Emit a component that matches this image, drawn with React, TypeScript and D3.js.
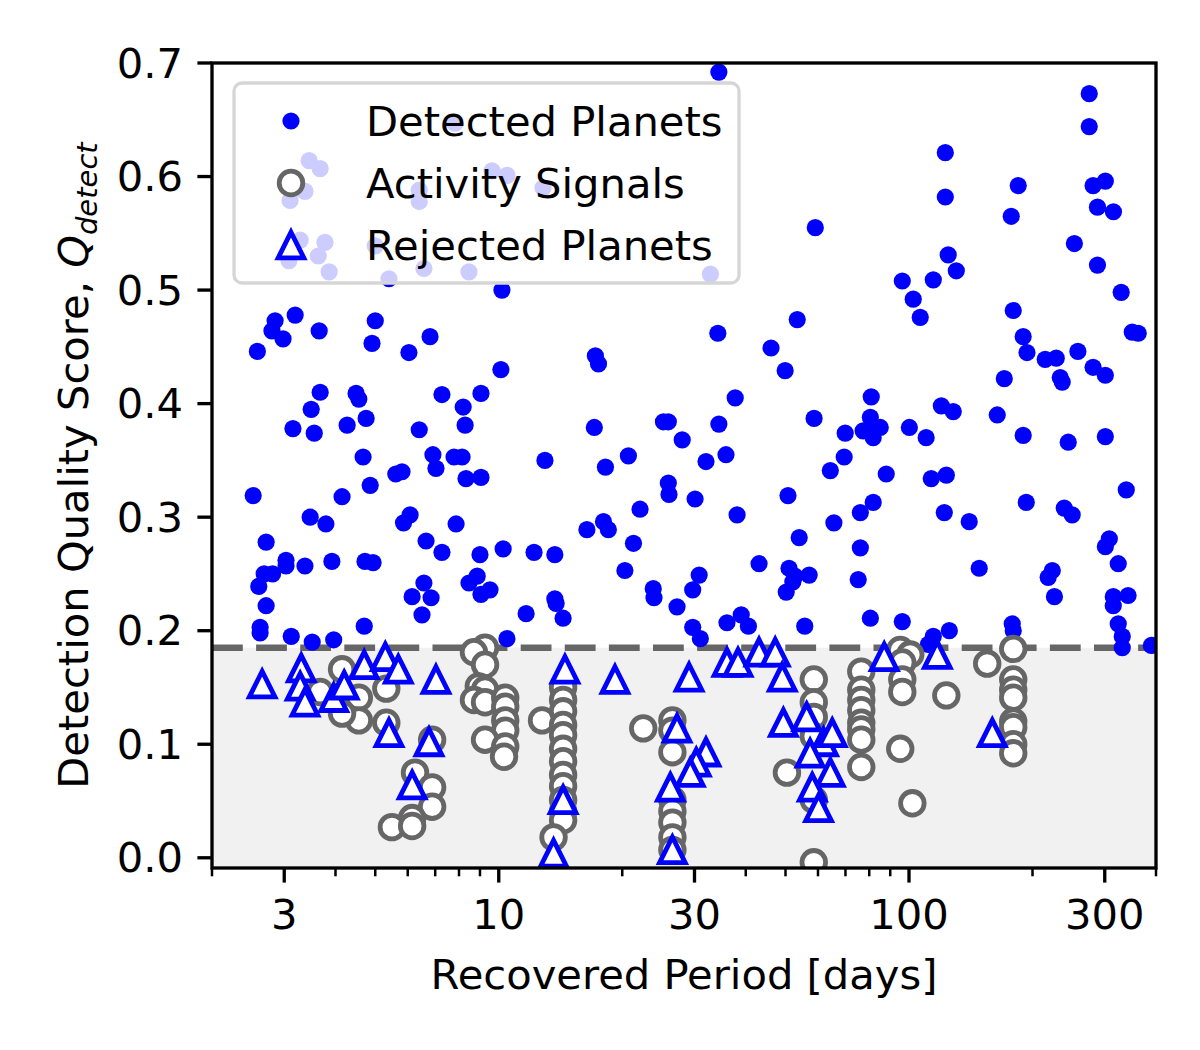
import React from "react";
import * as d3 from "d3";

// [recovered period (days), Q_detect]
const detected: [number, number][] = [
  [7.82, 0.647], [3.45, 0.614], [3.67, 0.607], [3.37, 0.587], [3.1, 0.579], [6.4, 0.588], [6.4, 0.578], [9.63, 0.605], [10.47, 0.601], [12.82, 0.59],
  [3.28, 0.544], [3.77, 0.542], [3.63, 0.53], [3.08, 0.526], [3.86, 0.516], [5.0, 0.539], [5.4, 0.51], [6.57, 0.519], [8.46, 0.516], [32.8, 0.514],
  [10.18, 0.5], [2.85, 0.473], [2.8, 0.464], [2.98, 0.457], [3.19, 0.478], [3.65, 0.464], [2.58, 0.446], [5.0, 0.473], [4.91, 0.453], [6.8, 0.459],
  [6.04, 0.445], [10.12, 0.43], [3.67, 0.41], [4.49, 0.409], [4.56, 0.404], [3.49, 0.395], [4.75, 0.387], [4.27, 0.381], [3.15, 0.378], [3.55, 0.374],
  [7.27, 0.408], [9.05, 0.409], [8.19, 0.397], [8.28, 0.381], [6.4, 0.377], [4.67, 0.353], [6.91, 0.355], [7.78, 0.353], [8.14, 0.353], [7.03, 0.343],
  [5.61, 0.338], [5.81, 0.34], [8.32, 0.334], [9.05, 0.335], [4.86, 0.328], [2.52, 0.319], [4.15, 0.318], [3.47, 0.3], [3.79, 0.294], [6.08, 0.302],
  [5.86, 0.295], [7.87, 0.294], [2.71, 0.278], [6.65, 0.279], [7.27, 0.269], [9.0, 0.267], [10.25, 0.272], [12.19, 0.269], [3.03, 0.262], [3.03, 0.257],
  [2.68, 0.25], [2.81, 0.25], [2.6, 0.239], [3.37, 0.257], [3.92, 0.261], [4.72, 0.261], [4.94, 0.26], [6.57, 0.242], [6.15, 0.23], [6.84, 0.229],
  [6.5, 0.214], [8.46, 0.242], [8.86, 0.248], [9.05, 0.232], [9.52, 0.236], [11.66, 0.215], [2.71, 0.222], [4.7, 0.204], [2.62, 0.203], [2.62, 0.198],
  [3.12, 0.195], [3.51, 0.19], [3.96, 0.192], [10.47, 0.193],
  [34.4, 0.692], [59.1, 0.555], [53.4, 0.474], [34.2, 0.462], [46.1, 0.449], [49.9, 0.429], [17.2, 0.442], [17.5, 0.435], [37.7, 0.405], [58.7, 0.387],
  [69.9, 0.374], [17.1, 0.379], [25.2, 0.384], [25.9, 0.384], [34.4, 0.382], [28.0, 0.368], [12.96, 0.35], [20.7, 0.354], [18.2, 0.344], [32.0, 0.349],
  [35.8, 0.355], [64.3, 0.341], [69.5, 0.353], [25.9, 0.33], [26.0, 0.32], [30.1, 0.316], [50.7, 0.319], [22.1, 0.307], [38.1, 0.302], [65.6, 0.295],
  [18.0, 0.296], [18.5, 0.289], [16.4, 0.289], [21.3, 0.277], [54.0, 0.282], [13.7, 0.267], [20.3, 0.253], [43.1, 0.259], [51.0, 0.255], [52.7, 0.248],
  [57.1, 0.249], [50.2, 0.234], [52.1, 0.243], [23.8, 0.237], [23.9, 0.229], [30.8, 0.249], [29.7, 0.236], [27.2, 0.221], [13.7, 0.228], [13.8, 0.224],
  [14.35, 0.211], [29.7, 0.203], [31.0, 0.193], [36.0, 0.207], [39.0, 0.214], [40.6, 0.204], [55.7, 0.204],
  [275, 0.673], [275, 0.644], [122.6, 0.621], [122.6, 0.582], [184.6, 0.592], [177.5, 0.565], [301, 0.596], [281, 0.592], [288, 0.573], [315, 0.569],
  [253, 0.541], [288, 0.522], [329, 0.498], [124.6, 0.531], [130.4, 0.517], [96.3, 0.508], [114.6, 0.509], [102.4, 0.492], [106.5, 0.476], [179.5, 0.482],
  [189.8, 0.459], [350, 0.463], [362, 0.462], [193.9, 0.445], [214.8, 0.439], [228.5, 0.44], [258, 0.446], [281, 0.432], [301, 0.425], [233.7, 0.423],
  [236.3, 0.419], [170.7, 0.422], [80.9, 0.406], [80.5, 0.388], [77.3, 0.376], [81.8, 0.37], [85.1, 0.379], [80.5, 0.379], [100.2, 0.379], [110.1, 0.37],
  [119.9, 0.398], [128.2, 0.393], [164.1, 0.39], [189.8, 0.372], [244.4, 0.366], [301, 0.371], [88.0, 0.338], [113.3, 0.334], [123.3, 0.337], [338.5, 0.324],
  [81.8, 0.313], [76.1, 0.304], [121.9, 0.304], [140.2, 0.296], [193.1, 0.313], [239, 0.308], [249.9, 0.302], [76.1, 0.273], [307.8, 0.281], [301, 0.274],
  [323.6, 0.259], [75.2, 0.245], [148.3, 0.255], [223.5, 0.253], [218.4, 0.247], [226.2, 0.23], [314.7, 0.23], [314.7, 0.222], [342, 0.231], [80.5, 0.211],
  [96.3, 0.208], [114.6, 0.195], [125.4, 0.2], [178.5, 0.206], [179.5, 0.2], [323.6, 0.206], [331, 0.195], [331, 0.185], [389.6, 0.187], [111.5, 0.188],
];

const activity: [number, number][] = [
  [4.15, 0.166], [3.67, 0.146], [4.56, 0.141], [4.56, 0.121], [4.15, 0.127], [5.32, 0.149], [5.32, 0.119], [6.88, 0.104], [6.25, 0.075], [6.88, 0.062],
  [6.88, 0.045], [6.15, 0.035], [5.49, 0.027], [6.15, 0.028],
  [9.26, 0.185], [8.7, 0.181], [9.26, 0.17], [8.94, 0.151], [9.26, 0.148], [8.7, 0.139], [9.26, 0.137], [10.37, 0.141], [10.37, 0.133], [10.37, 0.121],
  [10.37, 0.112], [9.26, 0.104], [10.37, 0.098], [10.3, 0.089], [12.75, 0.121],
  [14.35, 0.15], [14.35, 0.139], [14.35, 0.129], [14.35, 0.117], [14.35, 0.108], [14.35, 0.096], [14.35, 0.085], [14.35, 0.073], [14.35, 0.063],
  [14.35, 0.051], [14.35, 0.041], [14.35, 0.033], [13.6, 0.018], [22.5, 0.114],
  [26.5, 0.121], [26.5, 0.112], [26.5, 0.093], [26.5, 0.051], [26.5, 0.041], [26.5, 0.031], [26.5, 0.018], [26.5, 0.007],
  [58.6, 0.157], [58.6, 0.137], [58.6, 0.124], [58.6, 0.107], [50.4, 0.075], [58.6, 0.051], [58.6, -0.004],
  [76.5, 0.164], [76.5, 0.148], [76.5, 0.139], [76.5, 0.13], [76.5, 0.119], [76.5, 0.113], [76.5, 0.104], [76.5, 0.08],
  [95.2, 0.183], [100.7, 0.179], [96.3, 0.172], [96.3, 0.157], [96.3, 0.146], [95.2, 0.096], [123.3, 0.143], [101.9, 0.048], [155.1, 0.171],
  [179.5, 0.184], [179.5, 0.157], [179.5, 0.148], [179.5, 0.141], [179.5, 0.12], [179.5, 0.115], [179.5, 0.1], [179.5, 0.092],
];

const rejected: [number, number][] = [
  [2.65, 0.153], [3.3, 0.167], [3.28, 0.151], [3.37, 0.137], [3.96, 0.141], [4.2, 0.152], [4.7, 0.17], [5.29, 0.177], [5.69, 0.166], [7.03, 0.157],
  [5.4, 0.11], [6.76, 0.102], [6.15, 0.064],
  [14.5, 0.166], [19.2, 0.157], [29.1, 0.159], [36.0, 0.172], [38.3, 0.172], [43.1, 0.181], [47.2, 0.181], [49.1, 0.159], [27.2, 0.114], [32.0, 0.093],
  [30.3, 0.084], [29.3, 0.075], [26.2, 0.062], [14.35, 0.051], [13.6, 0.004], [26.5, 0.007],
  [49.4, 0.119], [56.3, 0.124], [61.9, 0.102], [65.0, 0.11], [57.4, 0.092], [64.3, 0.075], [58.1, 0.062], [60.2, 0.044], [87.0, 0.177], [117.2, 0.179],
  [159.6, 0.11],
];

const periodTicks = [3, 10, 30, 100, 300];
const periodMinorTicks = [2, 4, 5, 6, 7, 8, 9, 20, 40, 50, 60, 70, 80, 90, 200, 400];
const scoreTicks = [0, 0.1, 0.2, 0.3, 0.4, 0.5, 0.6, 0.7];
const threshold = 0.185;
const legendLabels = ["Detected Planets", "Activity Signals", "Rejected Planets"];

const FONT = "DejaVu Sans, sans-serif";
const FS = 41.67;
const BLUE = "#0000ff";
const GRAY = "#666666";

function triangle(h: number) {
  return `M0,${-h}L${h},${h}L${-h},${h}Z`;
}

export default function App() {
  const width = 1200;
  const height = 1050;
  const left = 212, right = 1156, top = 63, bottom = 868;

  const x = d3.scaleLog().domain([2, 400]).range([left, right]);
  const y = d3.scaleLinear().domain([-0.009, 0.7]).range([bottom, top]);

  const dotR = 8.6;
  const ringR = 11.8;
  const triH = 12.8;
  const lw = 4.8;

  const legend = { x: 234, y: 83, w: 505, h: 200, markerX: 291, textX: 366, rows: [121, 183, 245] };

  return (
    <div style={{ position: "absolute", left: 0, top: 0 }}>
      <svg width={width} height={height} style={{ display: "block", background: "#fff" }} fontFamily={FONT}>
        <defs>
          <clipPath id="plotArea">
            <rect x={left} y={top} width={right - left} height={bottom - top} />
          </clipPath>
        </defs>

        {/* rejected zone below the threshold */}
        <rect x={left} y={y(threshold)} width={right - left} height={bottom - y(threshold)} fill="#f1f1f1" />
        <line x1={left} x2={right} y1={y(threshold)} y2={y(threshold)} stroke={GRAY} strokeWidth={6.5} strokeDasharray="30.8 13.3" />

        <g clipPath="url(#plotArea)">
          {detected.map((d, i) => (
            <circle key={"d" + i} cx={x(d[0])} cy={y(d[1])} r={dotR} fill={BLUE} />
          ))}
          {activity.map((d, i) => (
            <circle key={"a" + i} cx={x(d[0])} cy={y(d[1])} r={ringR} fill="#fff" stroke={GRAY} strokeWidth={lw} />
          ))}
          {rejected.map((d, i) => (
            <path key={"r" + i} d={triangle(triH)} transform={`translate(${x(d[0])},${y(d[1])})`}
              fill="#fff" stroke={BLUE} strokeWidth={lw} strokeLinejoin="miter" />
          ))}
        </g>

        {/* legend */}
        <rect x={legend.x} y={legend.y} width={legend.w} height={legend.h} rx={8} fill="#fff" fillOpacity={0.8}
          stroke="#d6d6d6" strokeWidth={3.3} />
        <circle cx={legend.markerX} cy={legend.rows[0]} r={dotR} fill={BLUE} />
        <circle cx={legend.markerX} cy={legend.rows[1]} r={ringR} fill="#fff" stroke={GRAY} strokeWidth={lw} />
        <path d={triangle(triH)} transform={`translate(${legend.markerX},${legend.rows[2]})`} fill="#fff" stroke={BLUE} strokeWidth={lw} />
        {legendLabels.map((t, i) => (
          <text key={t} x={legend.textX} y={legend.rows[i]} dominantBaseline="central" fontSize={FS} fill="#000">{t}</text>
        ))}

        {/* frame */}
        <rect x={left} y={top} width={right - left} height={bottom - top} fill="none" stroke="#000" strokeWidth={3.33} />

        {/* x axis */}
        {periodMinorTicks.map((t) => (
          <line key={"xm" + t} x1={x(t)} x2={x(t)} y1={bottom} y2={bottom + 8.3} stroke="#000" strokeWidth={2.5} />
        ))}
        {periodTicks.map((t) => (
          <g key={"x" + t}>
            <line x1={x(t)} x2={x(t)} y1={bottom} y2={bottom + 14.6} stroke="#000" strokeWidth={3.33} />
            <text x={x(t)} y={929} textAnchor="middle" fontSize={FS}>{t}</text>
          </g>
        ))}
        <text x={(left + right) / 2} y={989} textAnchor="middle" fontSize={FS}>Recovered Period [days]</text>

        {/* y axis */}
        {scoreTicks.map((t) => (
          <g key={"y" + t}>
            <line x1={left - 14.6} x2={left} y1={y(t)} y2={y(t)} stroke="#000" strokeWidth={3.33} />
            <text x={183} y={y(t)} textAnchor="end" dominantBaseline="central" fontSize={FS}>{t.toFixed(1)}</text>
          </g>
        ))}
        <text transform={`translate(88,${(top + bottom) / 2}) rotate(-90)`} textAnchor="middle" fontSize={FS}>
          Detection Quality Score, <tspan fontStyle="italic">Q</tspan>
          <tspan fontStyle="italic" fontSize={29} dy={9}>detect</tspan>
        </text>
      </svg>
    </div>
  );
}
